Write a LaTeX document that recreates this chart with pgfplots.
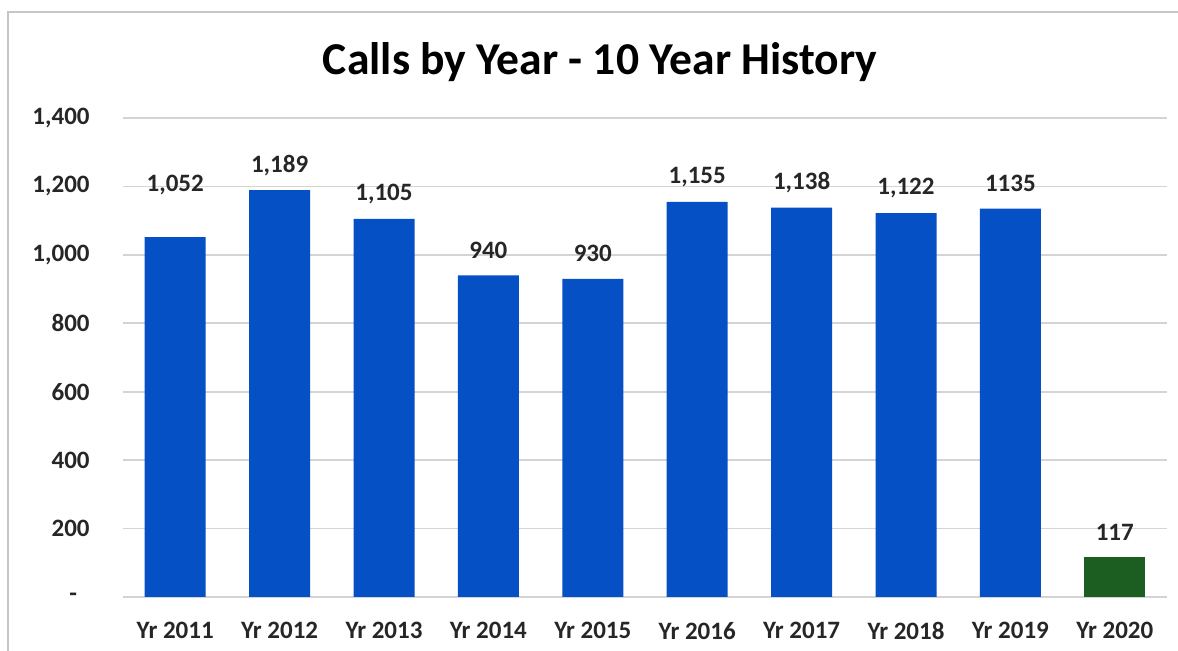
\documentclass[border=0pt]{standalone}
\usepackage{pgfplots}
\pgfplotsset{compat=1.18}
\usepackage{pgfplotstable}
\usepackage{fontspec}
\setmainfont{Carlito}
\definecolor{barblue}{HTML}{0650C6}
\definecolor{bargreen}{HTML}{1C5E22}
\definecolor{gridgray}{HTML}{D4D4D4}
\pgfplotstableread{
x y lab off
0 1052 1,052 26
1 1189 1,189 12.5
2 1105 1,105 12.5
3 940 940 12.5
4 930 930 12.5
5 1155 1,155 12.5
6 1138 1,138 12.5
7 1122 1,122 12.5
8 1135 1135 12.5
}\bluedata
\pgfplotstableread{
x y lab off
9 117 117 12.5
}\greendata
\begin{document}
\begin{tikzpicture}
\path[use as bounding box] (0,0) rectangle (589pt,325.5pt);
\draw[gray!45, line width=0.8pt] (4pt,0) -- (4pt,319.5pt) -- (589pt,319.5pt);
\node[font=\bfseries\fontsize{22.8}{26}\selectfont] at (300pt,294.5pt) {Calls by Year - 10 Year History};
\begin{axis}[
  at={(61.5pt,27pt)}, anchor=south west, scale only axis,
  width=522pt, height=239.5pt,
  xmin=-0.5, xmax=9.5, ymin=0, ymax=1400,
  axis line style={draw=none}, major tick length=0pt,
  ymajorgrids, grid style={gridgray, line width=0.8pt},
  xtick={0,...,9},
  xticklabels={Yr 2011,Yr 2012,Yr 2013,Yr 2014,Yr 2015,Yr 2016,Yr 2017,Yr 2018,Yr 2019,Yr 2020},
  ytick={0,200,...,1400},
  yticklabels={-\hphantom{0},200,400,600,800,{1,000},{1,200},{1,400}},
  /pgf/number format/assume math mode=true,
  ticklabel style={font=\bfseries\fontsize{12.5}{14}\selectfont, text=black!85},
  yticklabel style={anchor=east, inner sep=0pt, xshift=-16.5pt},
  xticklabel style={anchor=north, inner sep=0pt, yshift=-12.5pt},
  clip=false,
  point meta=explicit symbolic,
  nodes near coords,
  visualization depends on={\thisrow{off} \as \myoff},
  every node near coord/.style={anchor=center, yshift=\myoff pt, inner sep=0pt,
     font=\bfseries\fontsize{12.5}{14}\selectfont, text=black!85},
]
\addplot[ybar, bar width=30.5pt, fill=barblue, draw=none] table[x=x, y=y, meta=lab] {\bluedata};
\addplot[ybar, bar width=30.5pt, fill=bargreen, draw=none] table[x=x, y=y, meta=lab] {\greendata};
\end{axis}
\end{tikzpicture}
\end{document}
